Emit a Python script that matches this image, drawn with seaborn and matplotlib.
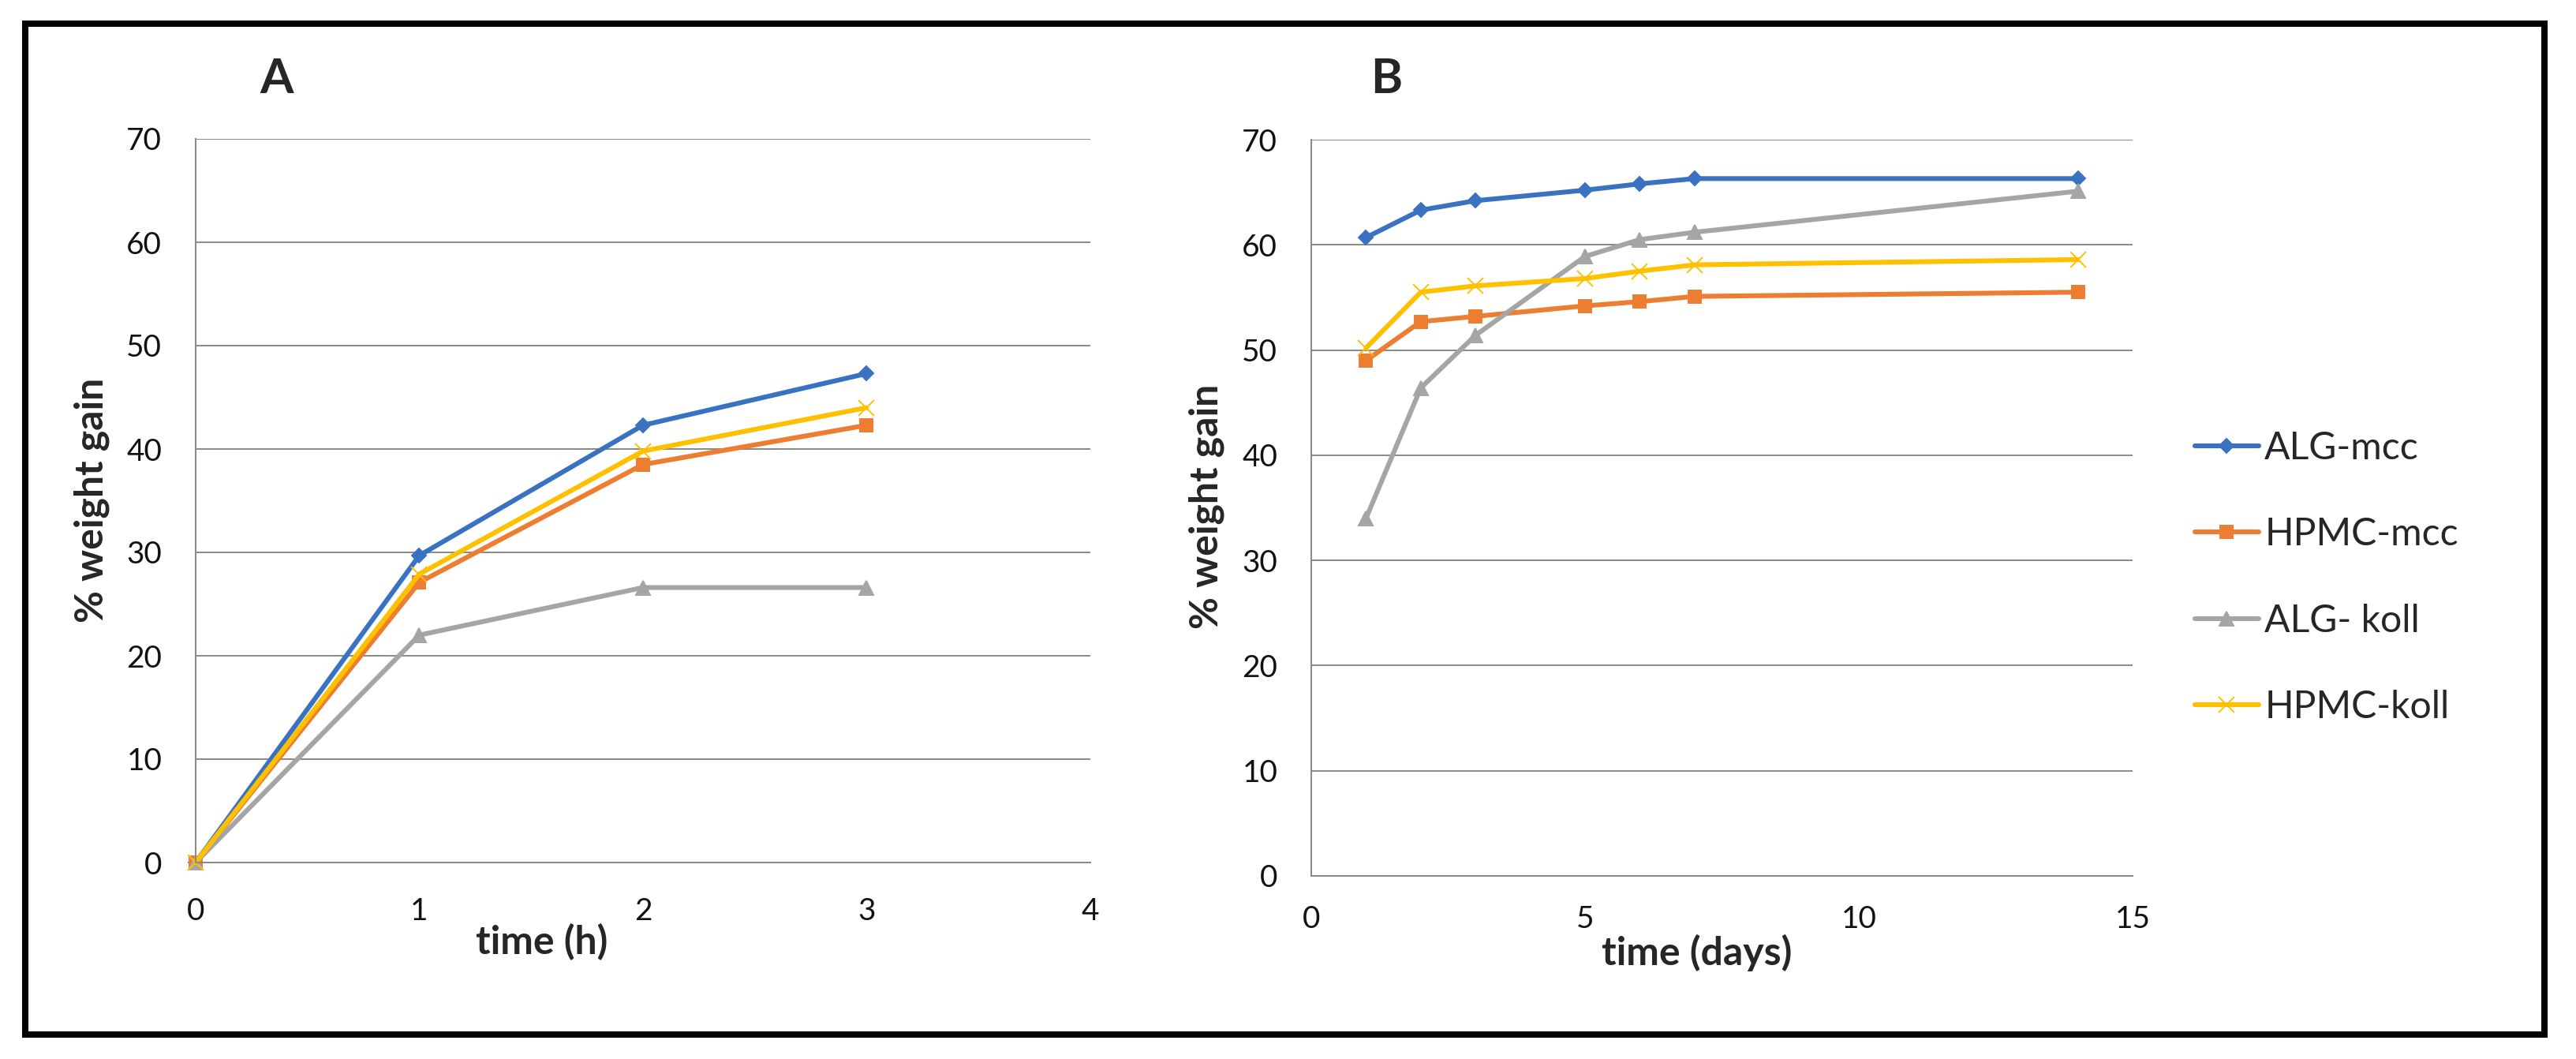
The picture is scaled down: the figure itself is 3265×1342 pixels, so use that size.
import matplotlib.pyplot as plt
import matplotlib.patches as mpatches
import pandas as pd
import seaborn as sns

# panel A: weight gain over the first hours
hours = [0, 1, 2, 3]
alg_mcc_a = [0, 29.7, 42.3, 47.3]
hpmc_mcc_a = [0, 27.1, 38.5, 42.3]
alg_koll_a = [0, 22.0, 26.6, 26.6]
hpmc_koll_a = [0, 27.9, 39.8, 44.0]

# panel B: weight gain over days
days = [1, 2, 3, 5, 6, 7, 14]
alg_mcc_b = [60.7, 63.3, 64.2, 65.2, 65.8, 66.3, 66.3]
hpmc_mcc_b = [49.0, 52.7, 53.2, 54.2, 54.6, 55.1, 55.5]
alg_koll_b = [34.0, 46.4, 51.4, 58.9, 60.5, 61.2, 65.1]
hpmc_koll_b = [50.2, 55.5, 56.1, 56.8, 57.5, 58.1, 58.6]

series = ["ALG-mcc", "HPMC-mcc", "ALG- koll", "HPMC-koll"]
colors = dict(zip(series, ["#3A72C2", "#ED7D31", "#A5A5A5", "#FFC000"]))
markers = dict(zip(series, ["D", "s", "^", "x"]))
msizes = dict(zip(series, [9, 12, 13, 15]))


def to_long(x, values):
    frames = [pd.DataFrame({"time": x, "gain": v, "series": s}) for s, v in zip(series, values)]
    return pd.concat(frames, ignore_index=True)


df_a = to_long(hours, [alg_mcc_a, hpmc_mcc_a, alg_koll_a, hpmc_koll_a])
df_b = to_long(days, [alg_mcc_b, hpmc_mcc_b, alg_koll_b, hpmc_koll_b])

sns.set_theme(style="white")
plt.rcParams["font.family"] = ["Lato", "DejaVu Sans"]

W, H = 3266, 1342
fig = plt.figure(figsize=(W / 100, H / 100), dpi=100)
grid_col = "#888888"
renderer = fig.canvas.get_renderer()


def fit_size(text, width_px, weight="normal"):
    # font size that makes the text about width_px wide
    t = fig.text(0, 0, text, fontsize=10, fontweight=weight)
    w = t.get_window_extent(renderer=renderer).width
    t.remove()
    return 10 * width_px / w


tick_fs = fit_size("10", 45)
label_fs = fit_size("% weight gain", 310, "bold")
legend_fs = fit_size("HPMC-mcc", 245)


def px_axes(x0, x1, y0, y1):
    # pixel box (left, right, bottom y, top y) -> figure fraction
    return fig.add_axes([x0 / W, 1 - y0 / H, (x1 - x0) / W, (y0 - y1) / H])


ax_a = px_axes(248, 1382, 1093, 176)
ax_b = px_axes(1662, 2703, 1110, 177)

for ax, df in [(ax_a, df_a), (ax_b, df_b)]:
    for s in series:
        sns.lineplot(data=df[df["series"] == s], x="time", y="gain",
                     color=colors[s], marker=markers[s], markersize=msizes[s],
                     linewidth=4.4, markeredgewidth=1.4, markeredgecolor=None,
                     clip_on=False, label=s, legend=False, ax=ax)

for ax, xmax, xstep in [(ax_a, 4, 1), (ax_b, 15, 5)]:
    ax.set_xlim(0, xmax)
    ax.set_ylim(0, 70)
    ax.set_xticks(range(0, xmax + 1, xstep))
    ax.set_yticks(range(0, 80, 10))
    ax.yaxis.grid(True, color=grid_col, linewidth=1.4)
    ax.set_axisbelow(True)
    for side in ["top", "right"]:
        ax.spines[side].set_visible(False)
    for side in ["left", "bottom"]:
        ax.spines[side].set_color(grid_col)
        ax.spines[side].set_linewidth(1.4)
    ax.tick_params(axis="both", which="major", direction="out", length=10.8,
                   width=1.4, color=grid_col, labelsize=tick_fs, labelcolor="#111111")
    ax.tick_params(axis="y", pad=20)
    ax.set_ylabel("% weight gain", fontsize=label_fs, fontweight="bold")
    ax.yaxis.label.set_va("center")
    ax.xaxis.label.set_va("center")

ax_a.tick_params(axis="x", pad=21)
ax_b.tick_params(axis="x", pad=16)

ax_a.set_xlabel("time (h)", fontsize=label_fs, fontweight="bold")
ax_b.set_xlabel("time (days)", fontsize=label_fs, fontweight="bold")
ax_a.xaxis.set_label_coords(0.387, -0.110)
ax_b.xaxis.set_label_coords(0.469, -0.104)
ax_a.yaxis.set_label_coords(-0.1164, 0.5005)
ax_b.yaxis.set_label_coords(-0.1278, 0.5016)

fig.text(351 / W, 1 - 100 / H, "A", fontsize=44, fontweight="bold", ha="center", va="center")
fig.text(1757 / W, 1 - 100 / H, "B", fontsize=44, fontweight="bold", ha="center", va="center")

handles, labels = ax_b.get_legend_handles_labels()
fig.legend(handles, labels, loc="center left", bbox_to_anchor=(2782 / W, 1 - 732 / H),
           frameon=False, fontsize=legend_fs, handlelength=81 / (legend_fs * 1.389),
           handletextpad=0.15, labelspacing=1.36, borderpad=0, borderaxespad=0)

# outer frame around both panels
fig.add_artist(mpatches.Rectangle((32 / W, 1 - 1311 / H), (3225 - 32) / W, (1311 - 30) / H,
                                  transform=fig.transFigure, fill=False,
                                  edgecolor="black", linewidth=5.8))

fig.savefig("out.png", dpi=100, facecolor="white")
